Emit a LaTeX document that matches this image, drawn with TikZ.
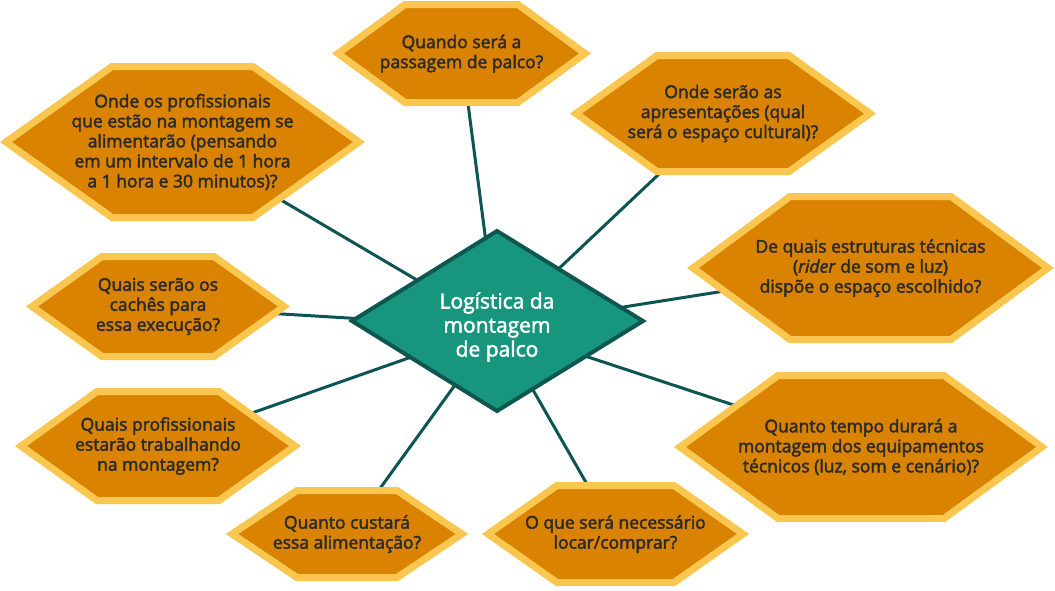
\documentclass[tikz,border=0pt]{standalone}
\usepackage{fontspec}
\setmainfont{Open Sans}
\newcommand\heavytext[1]{\special{pdf:literal direct 2 Tr 0.45 w}#1\special{pdf:literal direct 0 Tr}}
\usetikzlibrary{backgrounds}
\definecolor{hexfill}{HTML}{D98300}
\definecolor{hexline}{HTML}{F9C650}
\definecolor{qtextc}{HTML}{2B2B2B}
\definecolor{dfill}{HTML}{17957D}
\definecolor{dline}{HTML}{0E5650}
\definecolor{linkc}{HTML}{0C5552}
\tikzset{
  hexshape/.style={fill=hexfill, draw=hexline, line width=7pt, line join=miter},
  qtext/.style={text=qtextc, align=center, inner sep=0pt, font=\fontsize{17.5pt}{20pt}\selectfont},
  ctext/.style={text=white, align=center, inner sep=0pt, font=\fontsize{21pt}{24pt}\selectfont},
  link/.style={draw=linkc, line width=3pt},
  dshape/.style={fill=dfill, draw=dline, line width=4pt, line join=miter}
}
% name, cx, cy, outer half width, outer half height, outer inset, text
\newcommand\hexq[7]{%
  \draw[hexshape] (#2-#4+5,#3) -- (#2-#4+#6,#3-#5+3.5) -- (#2+#4-#6,#3-#5+3.5)
     -- (#2+#4-5,#3) -- (#2+#4-#6,#3+#5-3.5) -- (#2-#4+#6,#3+#5-3.5) -- cycle;
  \node[qtext] (#1) at (#2,#3) {\heavytext{#7}};}
\begin{document}
\begin{tikzpicture}[x=1pt,y=-1pt]
\useasboundingbox (0,0) rectangle (1055,590);
\hexq{h1}{461.5}{53.5}{128.5}{52.5}{72}{Quando será a\\passagem de palco?}
\hexq{h2}{723}{113.5}{152}{61.5}{86}{Onde serão as\\apresentações (qual\\será o espaço cultural)?}
\hexq{h3}{182.5}{142}{181.5}{79}{111}{Onde os profissionais\\que estão na montagem se\\alimentarão (pensando\\em um intervalo de 1 hora\\a 1 hora e 30 minutos)?}
\hexq{h4}{870.5}{268}{182.5}{75}{102}{De quais estruturas técnicas\\(\textit{rider} de som e luz)\\dispõe o espaço escolhido?}
\hexq{h5}{158}{306.5}{131}{53.5}{75}{Quais serão os\\cachês para\\essa execução?}
\hexq{h6}{158}{446}{142}{58}{81}{Quais profissionais\\estarão trabalhando\\na montagem?}
\hexq{h7}{347}{534}{120}{47}{70}{Quanto custará\\essa alimentação?}
\hexq{h8}{615.5}{534}{132.5}{52}{74}{O que será necessário\\locar/comprar?}
\hexq{h9}{861}{447}{186}{75}{103}{Quanto tempo durará a\\montagem dos equipamentos\\técnicos (luz, som e cenário)?}
\draw[dshape] (352,321) -- (497,231) -- (643,321) -- (497,411) -- cycle;
\node[ctext] (c) at (497,327) {\heavytext{Logística da\\montagem\\de palco}};
\begin{scope}[on background layer]
\foreach \h in {h1,h2,h3,h4,h5,h6,h7,h8,h9}
  \draw[link] (c) -- (\h);
\end{scope}
\end{tikzpicture}
\end{document}
